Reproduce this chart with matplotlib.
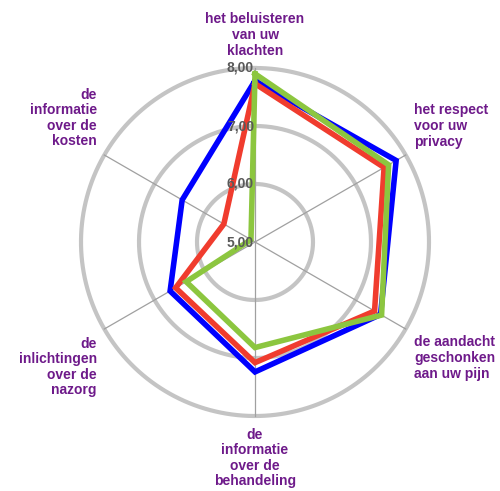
import matplotlib.pyplot as plt
import numpy as np

# Categorieen (met de klok mee, vanaf boven)
categories = [
    'het beluisteren\nvan uw\nklachten',
    'het respect\nvoor uw\nprivacy',
    'de aandacht\ngeschonken\naan uw pijn',
    'de\ninformatie\nover de\nbehandeling',
    'de\ninlichtingen\nover de\nnazorg',
    'de\ninformatie\nover de\nkosten',
]

# Scores per reeks
blue_values = [7.78, 7.81, 7.50, 7.24, 6.69, 6.45]
red_values = [7.73, 7.57, 7.38, 7.08, 6.58, 5.62]
green_values = [7.90, 7.66, 7.52, 6.82, 6.37, 5.08]

ring_values = [6, 7, 8]
tick_labels = ['5,00', '6,00', '7,00', '8,00']

W, H = 500, 491
fig = plt.figure(figsize=(W / 100, H / 100), dpi=100)
cx, cy, rad = 255, 242, 174
ax = fig.add_axes([(cx - rad) / W, (H - cy - rad) / H, 2 * rad / W, 2 * rad / H],
                  projection='polar')
ax.set_theta_zero_location('N')
ax.set_theta_direction(-1)
ax.set_ylim(5, 8)
ax.grid(False)
ax.set_xticks([])
ax.set_yticks([])
ax.spines['polar'].set_visible(False)
ax.patch.set_alpha(0)

n = len(categories)
angles = np.arange(n) * 2 * np.pi / n

# Ringen en spaken
t = np.linspace(0, 2 * np.pi, 400)
for rv in ring_values:
    ax.plot(t, np.full_like(t, rv), color='#c4c4c4', lw=3, zorder=1, clip_on=False)
for a in angles:
    ax.plot([a, a], [5, 8], color='#a0a0a0', lw=0.9, zorder=1, clip_on=False)

# Reeksen
for vals, col in [(blue_values, '#0000ff'), (red_values, '#f03c2e'), (green_values, '#8cc63f')]:
    v = vals + vals[:1]
    a = np.append(angles, angles[0])
    ax.plot(a, v, color=col, lw=4, zorder=3, solid_joinstyle='miter', clip_on=False)

# Schaallabels
for i, lab in enumerate(tick_labels):
    y = cy - i * rad / 3
    fig.text((cx - 1) / W, 1 - y / H, lab, ha='right', va='center', fontsize=10,
             fontweight='bold', color='#595959', family='Liberation Sans', zorder=5)

# Categorielabels
purple = '#6e1a8a'
label_pos = [
    (255, 35, 'center'),
    (414, 126, 'left'),
    (414, 358, 'left'),
    (255, 458, 'center'),
    (97, 367, 'right'),
    (97, 118, 'right'),
]
for lab, (x, y, ha) in zip(categories, label_pos):
    fig.text(x / W, 1 - y / H, lab, ha=ha, va='center', multialignment=ha,
             fontsize=10, fontweight='bold', color=purple, family='Liberation Sans',
             linespacing=1.15)

plt.savefig('out.png', dpi=100)
